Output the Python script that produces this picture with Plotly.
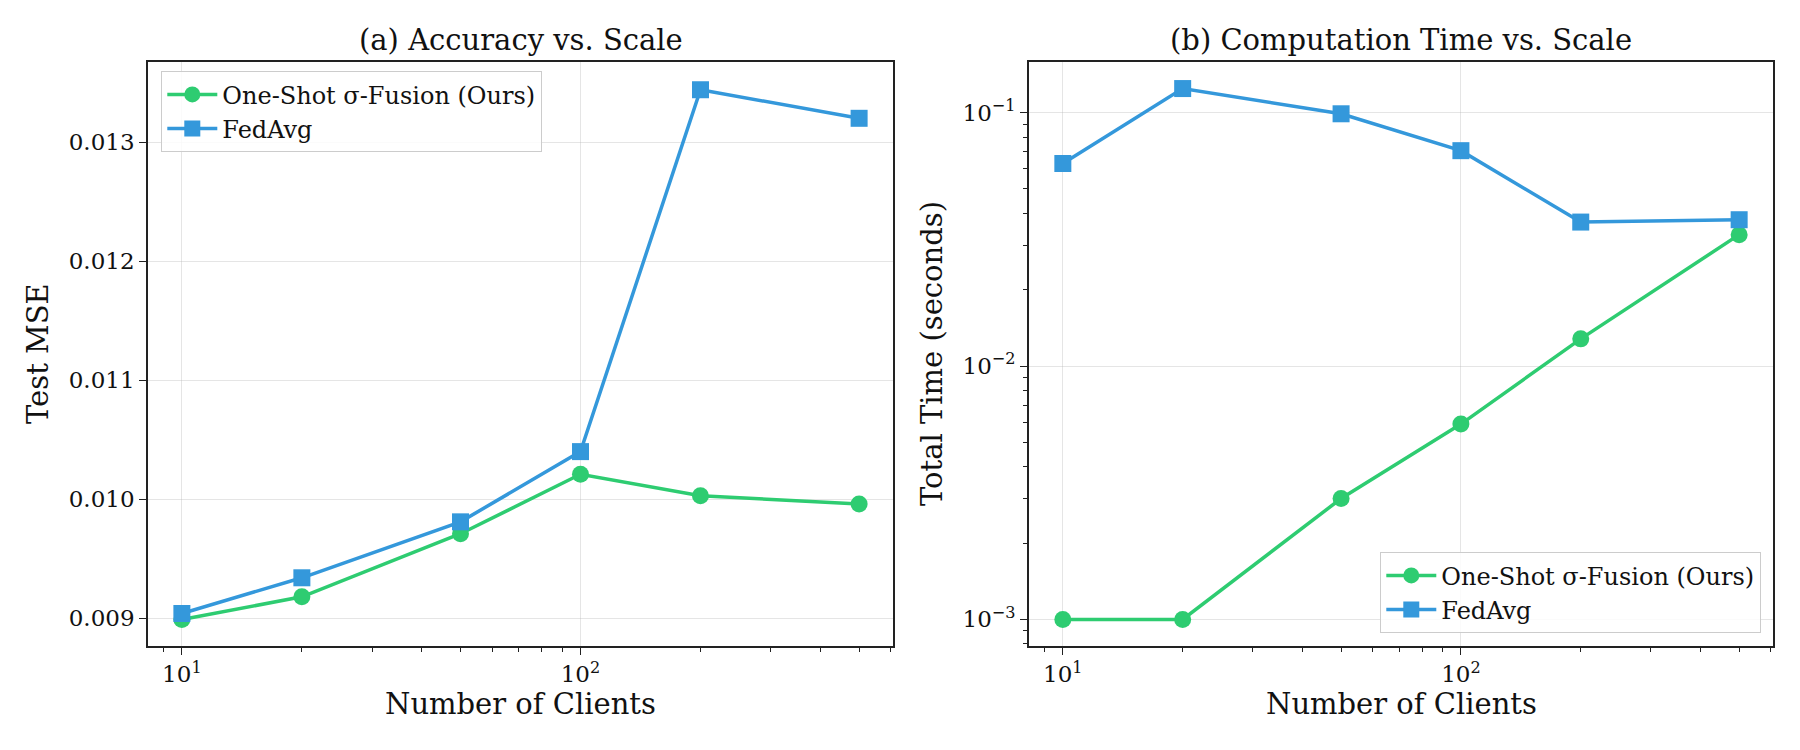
import plotly.graph_objects as go

clients = [10, 20, 50, 100, 200, 500]
mse_ours = [0.00899, 0.00918, 0.00971, 0.01021, 0.01003, 0.00996]
mse_fedavg = [0.00904, 0.00934, 0.00981, 0.01040, 0.01344, 0.01320]
time_ours = [0.0010, 0.0010, 0.0030, 0.0059, 0.0128, 0.0330]
time_fedavg = [0.063, 0.1245, 0.099, 0.0708, 0.037, 0.0378]
name_ours = "One-Shot σ-Fusion (Ours)"
name_fedavg = "FedAvg"
green = "#2ecc71"
blue = "#3498db"
FONT = "DejaVu Serif"

# figure is placed at (8,8) in the page by the default body margin
W, H = 1792, 742
XA = [140 / W, 885 / W]
XB = [1021 / W, 1765 / W]
YD = [1 - 638 / H, 1 - 54 / H]

fig = go.Figure()

def add(x, y, name, color, symbol, xa, ya, legend):
    fig.add_trace(go.Scatter(
        x=x, y=y, name=name, mode="lines+markers",
        line=dict(color=color, width=3.5),
        marker=dict(color=color, size=17, symbol=symbol),
        xaxis=xa, yaxis=ya, legend=legend, showlegend=True))

add(clients, mse_ours, name_ours, green, "circle", "x", "y", "legend")
add(clients, mse_fedavg, name_fedavg, blue, "square", "x", "y", "legend")
add(clients, time_ours, name_ours, green, "circle", "x2", "y2", "legend2")
add(clients, time_fedavg, name_fedavg, blue, "square", "x2", "y2", "legend2")

minor_x = [8, 9, 20, 30, 40, 50, 60, 70, 80, 90, 200, 300, 400, 500, 600]
minor_y = [m * 10.0 ** e for e in (-4, -3, -2, -1) for m in range(2, 10)]

axis_common = dict(
    showline=True, linecolor="#222222", linewidth=1.6, mirror=True,
    ticks="outside", ticklen=7, tickwidth=1.3, tickcolor="#222222",
    gridcolor="rgba(180,180,180,0.35)", gridwidth=1, zeroline=False,
    tickfont=dict(family=FONT, size=23, color="#111111"),
    automargin=False,
)

xaxis_common = dict(
    type="log", tickvals=[10, 100],
    ticktext=["10<sup>1</sup>", "10<sup>2</sup>"],
    range=[0.915, 2.784],
    minor=dict(tickvals=minor_x, ticks="outside", ticklen=4, tickwidth=1,
               tickcolor="#222222", showgrid=False),
    **axis_common,
)

legend_common = dict(
    bgcolor="rgba(255,255,255,0.85)", bordercolor="#cccccc", borderwidth=1.3,
    font=dict(family=FONT, size=24), itemwidth=50, tracegroupgap=0,
)

label_font = dict(family=FONT, size=29, color="#111111")

fig.update_layout(
    width=W, height=H,
    margin=dict(l=0, r=0, t=0, b=0),
    paper_bgcolor="white", plot_bgcolor="white",
    font=dict(family=FONT, color="#111111"),
    xaxis=dict(domain=XA, anchor="y", **xaxis_common),
    xaxis2=dict(domain=XB, anchor="y2", **xaxis_common),
    yaxis=dict(domain=YD, anchor="x",
               range=[0.008767, 0.013673],
               tickvals=[0.009, 0.010, 0.011, 0.012, 0.013],
               ticktext=["0.009", "0.010", "0.011", "0.012", "0.013"],
               **axis_common),
    yaxis2=dict(domain=YD, anchor="x2", type="log",
                range=[-3.105, -0.80],
                tickvals=[0.001, 0.01, 0.1],
                ticktext=["10<sup>−3</sup>", "10<sup>−2</sup>", "10<sup>−1</sup>"],
                minor=dict(tickvals=minor_y, ticks="outside", ticklen=4, tickwidth=1,
                           tickcolor="#222222", showgrid=False),
                **axis_common),
    legend=dict(x=153 / W, y=1 - 63 / H, xanchor="left", yanchor="top", **legend_common),
    legend2=dict(x=1753 / W, y=1 - 625 / H, xanchor="right", yanchor="bottom", **legend_common),
    annotations=[
        dict(text="(a) Accuracy vs. Scale", x=sum(XA) / 2, y=1 - 32 / H,
             xref="paper", yref="paper", xanchor="center", yanchor="middle",
             showarrow=False, font=label_font),
        dict(text="(b) Computation Time vs. Scale", x=sum(XB) / 2, y=1 - 32 / H,
             xref="paper", yref="paper", xanchor="center", yanchor="middle",
             showarrow=False, font=label_font),
        dict(text="Number of Clients", x=sum(XA) / 2, y=1 - 696 / H,
             xref="paper", yref="paper", xanchor="center", yanchor="middle",
             showarrow=False, font=label_font),
        dict(text="Number of Clients", x=sum(XB) / 2, y=1 - 696 / H,
             xref="paper", yref="paper", xanchor="center", yanchor="middle",
             showarrow=False, font=label_font),
        dict(text="Test MSE", x=30 / W, y=sum(YD) / 2,
             xref="paper", yref="paper", xanchor="center", yanchor="middle",
             textangle=-90, showarrow=False, font=label_font),
        dict(text="Total Time (seconds)", x=924 / W, y=sum(YD) / 2,
             xref="paper", yref="paper", xanchor="center", yanchor="middle",
             textangle=-90, showarrow=False, font=label_font),
    ],
)

fig.write_html("out.html")
